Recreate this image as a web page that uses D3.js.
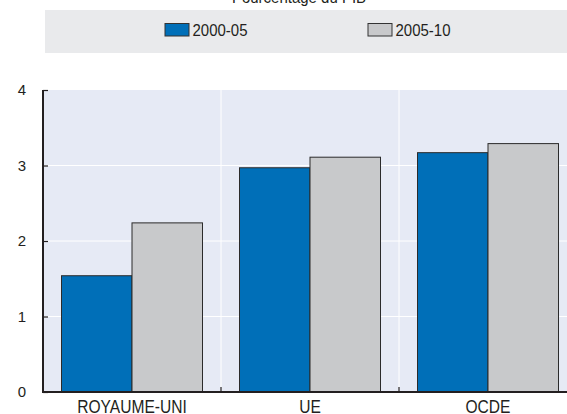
<!DOCTYPE html>
<html>
<head>
<meta charset="utf-8">
<script src="https://cdn.jsdelivr.net/npm/d3@7"></script>
<style>
  body { margin: 0; background: #fff; }
  svg text { font-family: "Liberation Sans", Arial, sans-serif; fill: #231f20; }
</style>
</head>
<body>
<div id="chart"></div>
<script>
// data
const categories = ["ROYAUME-UNI", "UE", "OCDE"];
const series = ["2000-05", "2005-10"];
const values_2000_05 = [1.54, 2.97, 3.17];
const values_2005_10 = [2.24, 3.11, 3.29];
const y_ticks = [0, 1, 2, 3, 4];
const unit_label = "Pourcentage du PIB";

const width = 567, height = 414;
const margin = {top: 90, right: -10, bottom: 22, left: 43};
const colors = {"2000-05": "#006fb8", "2005-10": "#c8c9cb"};
// the source font is a bit condensed, so stretch text vertically a little
const stretch = 1.12;

const svg = d3.select("#chart")
  .append("svg")
    .attr("width", width)
    .attr("height", height);

const rows = categories.map((c, i) => ({cat: c, vals: [values_2000_05[i], values_2005_10[i]]}));

const x = d3.scaleBand()
  .domain(categories)
  .range([margin.left, width - margin.right])
  .padding(0);

const x_inner = d3.scaleBand()
  .domain(series)
  .range([18.5, x.bandwidth() - 18.5])
  .padding(0);

const y = d3.scaleLinear()
  .domain([0, 4])
  .range([height - margin.bottom, margin.top]);

function put_text(g, tx, ty, size, anchor, txt) {
  return g.append("text")
    .attr("transform", `translate(${tx},${ty}) scale(1,${stretch})`)
    .attr("text-anchor", anchor)
    .style("font-size", size + "px")
    .text(txt);
}

// legend / title
put_text(svg, 299, 3, 15, "middle", unit_label);

svg.append("rect")
  .attr("x", 45).attr("y", 10)
  .attr("width", width - 45).attr("height", 43)
  .attr("fill", "#e9eaec");

const legend_x = [165, 368];
series.forEach((s, i) => {
  svg.append("rect")
    .attr("x", legend_x[i]).attr("y", 23.5)
    .attr("width", 24).attr("height", 12.5)
    .attr("fill", colors[s])
    .attr("stroke", "#333").attr("stroke-width", 1);
  put_text(svg, legend_x[i] + 27.5, 35.8, 15, "start", s);
});

// plot background
svg.append("rect")
  .attr("x", margin.left).attr("y", y(4))
  .attr("width", width - margin.left).attr("height", y(0) - y(4))
  .attr("fill", "#e6eaf5");

// horizontal grid
svg.append("g")
  .selectAll("line")
  .data(y_ticks.filter(d => d > 0 && d < 4))
  .join("line")
    .attr("x1", margin.left).attr("x2", width)
    .attr("y1", d => y(d)).attr("y2", d => y(d))
    .attr("stroke", "#fff").attr("stroke-width", 1);

// vertical separators between categories
const seps = categories.slice(1).map(c => x(c));
svg.append("g")
  .selectAll("line")
  .data(seps)
  .join("line")
    .attr("x1", d => d).attr("x2", d => d)
    .attr("y1", y(4)).attr("y2", y(0))
    .attr("stroke", "#fff").attr("stroke-width", 1);

// bars
svg.append("g")
  .selectAll("g")
  .data(rows)
  .join("g")
    .attr("transform", d => `translate(${x(d.cat)},0)`)
  .selectAll("rect")
  .data(d => d.vals.map((v, i) => ({s: series[i], v: v})))
  .join("rect")
    .attr("x", d => x_inner(d.s))
    .attr("y", d => y(d.v))
    .attr("width", x_inner.bandwidth())
    .attr("height", d => y(0) - y(d.v))
    .attr("fill", d => colors[d.s])
    .attr("stroke", "#2b2b2b")
    .attr("stroke-width", 1);

// y axis
const y_axis = svg.append("g")
  .attr("transform", `translate(${margin.left},0)`)
  .call(d3.axisRight(y).tickValues(y_ticks).tickSize(5).tickFormat(d3.format("d")));
y_axis.select(".domain").remove();
y_axis.selectAll(".tick line").attr("stroke", "#231f20").attr("stroke-width", 1.2);
y_axis.selectAll(".tick text")
  .attr("x", -17).attr("text-anchor", "end")
  .style("font-size", "15px")
  .attr("fill", "#231f20");
svg.append("line")
  .attr("x1", margin.left).attr("x2", margin.left)
  .attr("y1", y(4)).attr("y2", y(0) + 1)
  .attr("stroke", "#231f20").attr("stroke-width", 2);

// x axis
svg.append("line")
  .attr("x1", margin.left - 1).attr("x2", width)
  .attr("y1", y(0)).attr("y2", y(0))
  .attr("stroke", "#231f20").attr("stroke-width", 2);

svg.append("g")
  .selectAll("line")
  .data(seps)
  .join("line")
    .attr("x1", d => d).attr("x2", d => d)
    .attr("y1", y(0) - 5).attr("y2", y(0))
    .attr("stroke", "#231f20").attr("stroke-width", 1.2);

categories.forEach(c => {
  put_text(svg, x(c) + x.bandwidth() / 2, 412.5, 15.6, "middle", c);
});
</script>
</body>
</html>
